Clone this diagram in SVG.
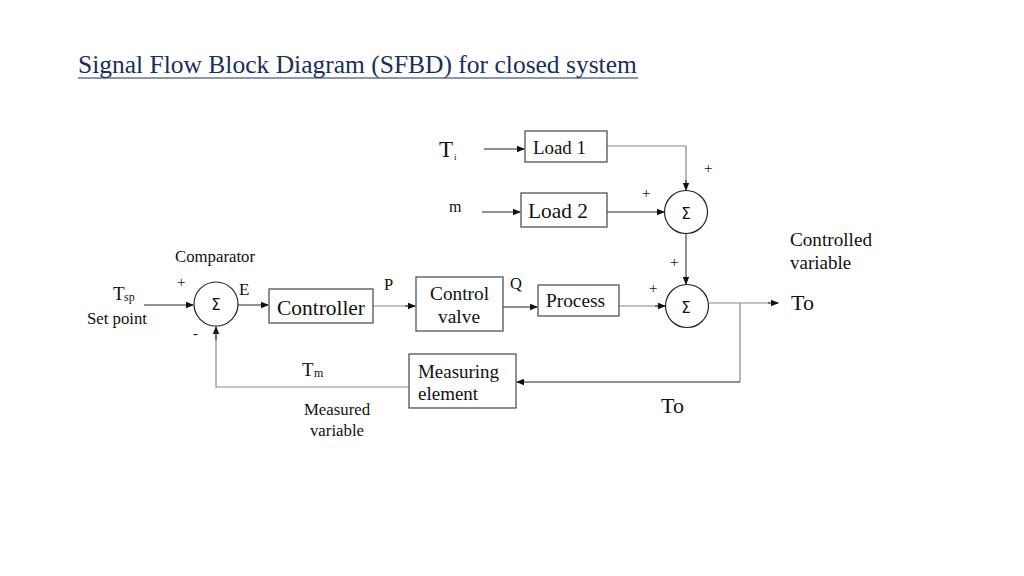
<svg xmlns="http://www.w3.org/2000/svg" width="1024" height="576" viewBox="0 0 1024 576">
<defs>
<marker id="ah" markerWidth="8" markerHeight="8" refX="7" refY="4" orient="auto" markerUnits="userSpaceOnUse">
<path d="M0,0.8 L8,4 L0,7.2 Z" fill="#111"/>
</marker>
</defs>
<style>
text{font-family:"Liberation Serif","Times New Roman",serif;fill:#111}
.box{fill:#fff;stroke:#444;stroke-width:1.2}
.sum{fill:#fff;stroke:#222;stroke-width:1.2}
.ln{fill:none;stroke:#222;stroke-width:1}
.gl{fill:none;stroke:#888;stroke-width:1.2}
.sig{font-family:"DejaVu Sans","Liberation Sans",sans-serif;font-size:15px}
.s17{font-size:16.8px}
.s19{font-size:19px}
.s21{font-size:21.7px}
.pl{font-size:15px}
</style>
<rect width="1024" height="576" fill="#fff"/>
<g id="title">
<text x="78" y="73" font-size="25.5" style="fill:#17305c">Signal Flow Block Diagram (SFBD) for closed system</text>
<line x1="78" y1="78" x2="638" y2="78" stroke="#17305c" stroke-width="1.2"/>
</g>
<g id="connectors">
<line class="ln" x1="484" y1="149" x2="524" y2="149" marker-end="url(#ah)"/>
<polyline class="gl" points="607,146 686,146 686,183"/>
<line class="ln" x1="686" y1="180" x2="686" y2="190" marker-end="url(#ah)"/>
<line class="ln" x1="482" y1="212" x2="520" y2="212" marker-end="url(#ah)"/>
<line class="ln" x1="607" y1="212" x2="664" y2="212" marker-end="url(#ah)"/>
<line class="ln" x1="686" y1="233" x2="686" y2="284" marker-end="url(#ah)"/>
<line class="ln" x1="144" y1="305" x2="193" y2="305" marker-end="url(#ah)"/>
<line class="ln" x1="238" y1="305" x2="268" y2="305" marker-end="url(#ah)"/>
<line class="gl" x1="373" y1="306" x2="408" y2="306"/>
<line class="ln" x1="405" y1="306" x2="415" y2="306" marker-end="url(#ah)"/>
<line class="ln" x1="503" y1="307" x2="537" y2="307" marker-end="url(#ah)"/>
<line class="gl" x1="619" y1="306" x2="658" y2="306"/>
<line class="ln" x1="655" y1="306" x2="665" y2="306" marker-end="url(#ah)"/>
<line class="gl" x1="709" y1="303" x2="770" y2="303"/>
<line class="ln" x1="768" y1="303" x2="778" y2="303" marker-end="url(#ah)"/>
<line class="gl" x1="740" y1="303" x2="740" y2="382"/>
<line class="ln" x1="740" y1="382" x2="517" y2="382" marker-end="url(#ah)"/>
<polyline class="gl" points="409,387 216,387 216,335"/>
<line class="ln" x1="216" y1="340" x2="216" y2="327" marker-end="url(#ah)"/>
</g>
<g id="load1">
<rect class="box" x="525" y="131" width="82" height="31"/>
<text x="533" y="154" class="s19" textLength="53" lengthAdjust="spacingAndGlyphs">Load 1</text>
</g>
<g id="load2">
<rect class="box" x="521" y="193" width="86" height="34"/>
<text x="528" y="218" class="s21" textLength="60" lengthAdjust="spacingAndGlyphs">Load 2</text>
</g>
<g id="sum-load">
<circle class="sum" cx="686" cy="212" r="21.5"/>
<text x="686" y="219" class="sig" text-anchor="middle">Σ</text>
</g>
<g id="sum-out">
<circle class="sum" cx="687" cy="306" r="21.5"/>
<text x="686" y="313" class="sig" text-anchor="middle">Σ</text>
</g>
<g id="comparator">
<circle class="sum" cx="216" cy="304" r="22"/>
<text x="216" y="310" class="sig" text-anchor="middle">Σ</text>
</g>
<g id="controller">
<rect class="box" x="269" y="289" width="104" height="34"/>
<text x="277" y="315" class="s21" textLength="88" lengthAdjust="spacingAndGlyphs">Controller</text>
</g>
<g id="control-valve">
<rect class="box" x="416" y="277" width="87" height="54"/>
<text x="430" y="300" class="s19" textLength="59" lengthAdjust="spacingAndGlyphs">Control</text>
<text x="438" y="323" class="s19" textLength="42" lengthAdjust="spacingAndGlyphs">valve</text>
</g>
<g id="process">
<rect class="box" x="538" y="285" width="81" height="31"/>
<text x="546" y="307" class="s19" textLength="59" lengthAdjust="spacingAndGlyphs">Process</text>
</g>
<g id="measuring-element">
<rect class="box" x="409" y="354" width="107" height="54"/>
<text x="418" y="378" class="s19" textLength="81" lengthAdjust="spacingAndGlyphs">Measuring</text>
<text x="418" y="400" class="s19">element</text>
</g>
<g id="labels">
<text x="439" y="157" font-size="23">T</text>
<text x="454" y="160" font-size="9">i</text>
<text x="449" y="212" font-size="16">m</text>
<text x="704" y="173" class="pl">+</text>
<text x="642" y="198" class="pl">+</text>
<text x="670" y="267" class="pl">+</text>
<text x="649" y="293" class="pl">+</text>
<text x="790" y="246" class="s19" textLength="82" lengthAdjust="spacingAndGlyphs">Controlled</text>
<text x="790" y="269" class="s19">variable</text>
<text x="791" y="310" font-size="22">To</text>
<text x="661" y="413" font-size="22">To</text>
<text x="175" y="262" class="s17" textLength="80" lengthAdjust="spacingAndGlyphs">Comparator</text>
<text x="177" y="287" class="pl">+</text>
<text x="193" y="338" class="pl">-</text>
<text x="113" y="300" font-size="19">T</text>
<text x="124" y="301" font-size="12">sp</text>
<text x="87" y="324" class="s17" textLength="60" lengthAdjust="spacingAndGlyphs">Set point</text>
<text x="239" y="295" font-size="17">E</text>
<text x="384" y="290" font-size="16.5">P</text>
<text x="510" y="289" font-size="16.5">Q</text>
<text x="302" y="376" font-size="19">T</text>
<text x="314" y="377" font-size="12">m</text>
<text x="337" y="415" class="s17" text-anchor="middle">Measured</text>
<text x="337" y="436" class="s17" text-anchor="middle">variable</text>
</g>
</svg>
